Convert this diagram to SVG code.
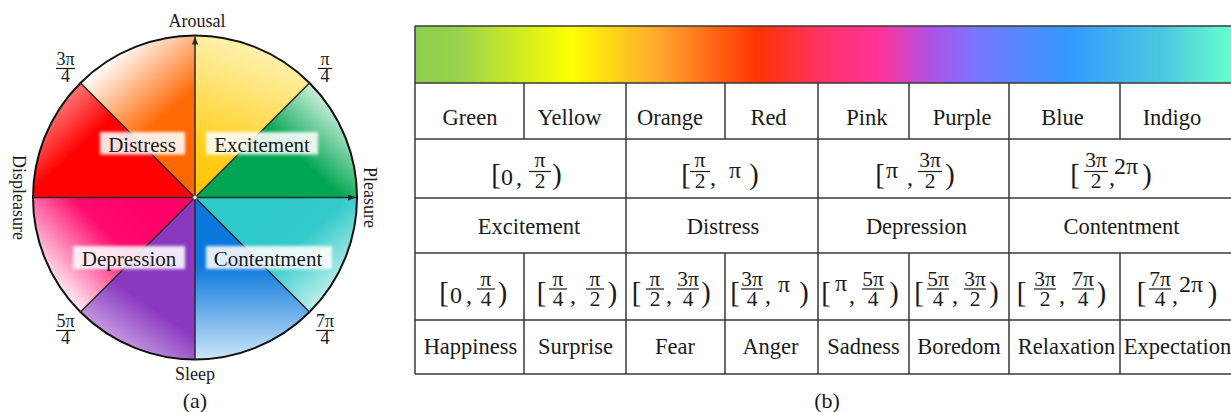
<svg xmlns="http://www.w3.org/2000/svg" width="1231" height="412" viewBox="0 0 1231 412">
<style>
text{font-family:"Liberation Serif","Times New Roman",serif;fill:#1a1a1a}
.ax{font-size:18px}
.lb{font-size:21px;text-anchor:middle}
.cap{font-size:22px;text-anchor:middle}
.tc{font-size:22.5px;text-anchor:middle}
.m{font-size:24px;text-anchor:middle}
.br{font-size:28.5px;text-anchor:middle}
.f{font-size:21.5px;text-anchor:middle}
.fs{font-size:18px;text-anchor:middle}
.bar{stroke:#1a1a1a;stroke-width:1.2}
.grid{stroke:#3a3a3a;stroke-width:1.5;fill:none}
.axis{stroke:#2a2a2a;stroke-width:1.5;fill:none}
.box{fill:#ffffff;opacity:0.88}
</style>
<defs>
<marker id="arr" markerWidth="8" markerHeight="6" refX="8" refY="3" orient="auto" markerUnits="userSpaceOnUse"><path d="M0,0 L8,3 L0,6 z" fill="#2a2a2a"/></marker>
<filter id="soft" x="-10%" y="-30%" width="120%" height="160%"><feGaussianBlur stdDeviation="1.6"/></filter>
<linearGradient id="gGreen" gradientUnits="userSpaceOnUse" x1="250" y1="200" x2="345" y2="95"><stop offset="0" stop-color="#00a651"/><stop offset="0.45" stop-color="#00a651"/><stop offset="1" stop-color="#ffffff"/></linearGradient>
<linearGradient id="gYellow" gradientUnits="userSpaceOnUse" x1="200" y1="195" x2="250" y2="45"><stop offset="0" stop-color="#ffc400"/><stop offset="0.3" stop-color="#ffcf20"/><stop offset="1" stop-color="#fff2b0"/></linearGradient>
<linearGradient id="gOrange" gradientUnits="userSpaceOnUse" x1="190" y1="180" x2="95" y2="70"><stop offset="0" stop-color="#ff6600"/><stop offset="0.45" stop-color="#ff6a05"/><stop offset="1" stop-color="#ffffff"/></linearGradient>
<linearGradient id="gRed" gradientUnits="userSpaceOnUse" x1="140" y1="185" x2="55" y2="95"><stop offset="0" stop-color="#ff0000"/><stop offset="0.55" stop-color="#ff0000"/><stop offset="1" stop-color="#ff8a8a"/></linearGradient>
<linearGradient id="gPink" gradientUnits="userSpaceOnUse" x1="150" y1="215" x2="60" y2="300"><stop offset="0" stop-color="#ff0066"/><stop offset="0.35" stop-color="#ff0a6c"/><stop offset="1" stop-color="#ffffff"/></linearGradient>
<linearGradient id="gPurple" gradientUnits="userSpaceOnUse" x1="175" y1="260" x2="110" y2="355"><stop offset="0" stop-color="#8a38c0"/><stop offset="0.45" stop-color="#8a38c0"/><stop offset="1" stop-color="#d7b8ea"/></linearGradient>
<linearGradient id="gBlue" gradientUnits="userSpaceOnUse" x1="230" y1="265" x2="230" y2="360"><stop offset="0" stop-color="#0a78dc"/><stop offset="1" stop-color="#cde6f8"/></linearGradient>
<linearGradient id="gTeal" gradientUnits="userSpaceOnUse" x1="270" y1="215" x2="345" y2="300"><stop offset="0" stop-color="#2ec9c9"/><stop offset="0.35" stop-color="#33caca"/><stop offset="1" stop-color="#e0f8f4"/></linearGradient>
<linearGradient id="spec" gradientUnits="userSpaceOnUse" x1="415" y1="0" x2="1231" y2="0">
<stop offset="0" stop-color="#8ccf50"/>
<stop offset="0.05" stop-color="#95d24d"/>
<stop offset="0.19" stop-color="#ffff00"/>
<stop offset="0.30" stop-color="#ffa630"/>
<stop offset="0.42" stop-color="#ff3300"/>
<stop offset="0.50" stop-color="#ff3366"/>
<stop offset="0.57" stop-color="#ff3399"/>
<stop offset="0.635" stop-color="#a955e8"/>
<stop offset="0.69" stop-color="#7777ff"/>
<stop offset="0.80" stop-color="#3399ff"/>
<stop offset="0.92" stop-color="#4cc9e0"/>
<stop offset="1" stop-color="#66ffcc"/>
</linearGradient>
</defs>

<g id="wheel">
<path d="M195,197.5 L357,197.5 A162,162 0 0,0 309.55,82.95 Z" fill="url(#gGreen)"/>
<path d="M195,197.5 L309.55,82.95 A162,162 0 0,0 195,35.5 Z" fill="url(#gYellow)"/>
<path d="M195,197.5 L195,35.5 A162,162 0 0,0 80.45,82.95 Z" fill="url(#gOrange)"/>
<path d="M195,197.5 L80.45,82.95 A162,162 0 0,0 33,197.5 Z" fill="url(#gRed)"/>
<path d="M195,197.5 L33,197.5 A162,162 0 0,0 80.45,312.05 Z" fill="url(#gPink)"/>
<path d="M195,197.5 L80.45,312.05 A162,162 0 0,0 195,359.5 Z" fill="url(#gPurple)"/>
<path d="M195,197.5 L195,359.5 A162,162 0 0,0 309.55,312.05 Z" fill="url(#gBlue)"/>
<path d="M195,197.5 L309.55,312.05 A162,162 0 0,0 357,197.5 Z" fill="url(#gTeal)"/>
<circle cx="195" cy="197.5" r="162" fill="none" stroke="#111" stroke-width="2"/>
</g>

<g id="connectors">
<line class="axis" x1="80.45" y1="82.95" x2="309.55" y2="312.05"/>
<line class="axis" x1="309.55" y1="82.95" x2="80.45" y2="312.05"/>
<line class="axis" x1="195" y1="359.5" x2="195" y2="36.5" marker-end="url(#arr)"/>
<line class="axis" x1="33" y1="197.5" x2="356" y2="197.5" marker-end="url(#arr)"/>
<circle cx="195" cy="197.5" r="2.2" fill="#ddd" stroke="#555" stroke-width="0.8"/>
</g>

<g id="node-distress">
<rect class="box" x="100" y="132" width="85" height="22.5" filter="url(#soft)"/>
<text class="lb" x="142" y="151.5">Distress</text>
</g>
<g id="node-excitement">
<rect class="box" x="206" y="132" width="112" height="22.5" filter="url(#soft)"/>
<text class="lb" x="262" y="151.5">Excitement</text>
</g>
<g id="node-depression">
<rect class="box" x="73" y="246" width="112" height="23" filter="url(#soft)"/>
<text class="lb" x="129" y="265.5">Depression</text>
</g>
<g id="node-contentment">
<rect class="box" x="206" y="246" width="126" height="23" filter="url(#soft)"/>
<text class="lb" x="268" y="265.5">Contentment</text>
</g>

<g id="axis-labels">
<text class="ax" x="197" y="26.5" text-anchor="middle">Arousal</text>
<text class="ax" x="195" y="379.5" text-anchor="middle">Sleep</text>
<text class="ax" transform="translate(13,197.5) rotate(90)" text-anchor="middle">Displeasure</text>
<text class="ax" transform="translate(364,197.5) rotate(90)" text-anchor="middle">Pleasure</text>
<text class="cap" x="195" y="408">(a)</text>
</g>

<g id="angle-labels">
<text class="fs"><tspan x="65.5" y="65">3π</tspan><tspan x="65.5" y="82">4</tspan></text><line class="bar" x1="56" y1="68.5" x2="75" y2="68.5"/>
<text class="fs"><tspan x="325" y="65">π</tspan><tspan x="325" y="82">4</tspan></text><line class="bar" x1="318" y1="68.5" x2="332" y2="68.5"/>
<text class="fs"><tspan x="65.5" y="327">5π</tspan><tspan x="65.5" y="343.5">4</tspan></text><line class="bar" x1="56" y1="330.5" x2="75" y2="330.5"/>
<text class="fs"><tspan x="325" y="327">7π</tspan><tspan x="325" y="343.5">4</tspan></text><line class="bar" x1="316" y1="330.5" x2="334" y2="330.5"/>
</g>

<g id="table">
<rect x="415" y="26" width="816" height="57" fill="url(#spec)"/>
<g class="grid">
<path d="M415,26 H1231 M415,83 H1231 M415,139 H1231 M415,198 H1231 M415,253 H1231 M415,320 H1231 M415,374 H1231"/>
<path d="M415,26 V374"/>
<path d="M524,83 V139 M725,83 V139 M909,83 V139 M1120,83 V139"/>
<path d="M626,83 V374 M818,83 V374 M1009,83 V374"/>
<path d="M524,253 V374 M725,253 V374 M909,253 V374 M1120,253 V374"/>
</g>
</g>

<g id="row-colors">
<text class="tc" x="470" y="125">Green</text>
<text class="tc" x="569.5" y="125">Yellow</text>
<text class="tc" x="670" y="125">Orange</text>
<text class="tc" x="768.5" y="125">Red</text>
<text class="tc" x="867" y="125">Pink</text>
<text class="tc" x="962" y="125">Purple</text>
<text class="tc" x="1062.5" y="125">Blue</text>
<text class="tc" x="1172" y="125">Indigo</text>
</g>

<g id="row-quadrant-ranges">
<text class="br" x="496" y="183.5">[</text><text class="m"><tspan x="507" y="185">0</tspan><tspan x="519" y="185">,</tspan></text>
<text class="f"><tspan x="540" y="167">π</tspan><tspan x="540" y="188">2</tspan></text><line class="bar" x1="529" y1="171.5" x2="551" y2="171.5"/>
<text class="br" x="557" y="183.5">)</text>

<text class="br" x="686" y="183.5">[</text>
<text class="f"><tspan x="700" y="167">π</tspan><tspan x="700" y="188">2</tspan></text><line class="bar" x1="690" y1="171.5" x2="710" y2="171.5"/>
<text class="m"><tspan x="713" y="185">,</tspan><tspan x="735" y="178">π</tspan></text>
<text class="br" x="754" y="183.5">)</text>

<text class="br" x="880" y="183.5">[</text><text class="m"><tspan x="892" y="178">π</tspan><tspan x="910" y="185">,</tspan></text>
<text class="f"><tspan x="930" y="167">3π</tspan><tspan x="930" y="188">2</tspan></text><line class="bar" x1="918" y1="171.5" x2="942" y2="171.5"/>
<text class="br" x="950" y="183.5">)</text>

<text class="br" x="1075" y="183.5">[</text>
<text class="f"><tspan x="1096" y="167">3π</tspan><tspan x="1096" y="188">2</tspan></text><line class="bar" x1="1084" y1="171.5" x2="1108" y2="171.5"/>
<text class="m"><tspan x="1112" y="185">,</tspan><tspan x="1126" y="174">2π</tspan></text>
<text class="br" x="1147" y="183.5">)</text>
</g>

<g id="row-emotions">
<text class="tc" x="529" y="234">Excitement</text>
<text class="tc" x="723" y="234">Distress</text>
<text class="tc" x="916.5" y="234">Depression</text>
<text class="tc" x="1121.5" y="234">Contentment</text>
</g>

<g id="row-octant-ranges">
<text class="br" x="444" y="301.5">[</text><text class="m"><tspan x="456" y="303">0</tspan><tspan x="469" y="303">,</tspan></text>
<text class="f"><tspan x="486" y="285.5">π</tspan><tspan x="486" y="305.5">4</tspan></text><line class="bar" x1="477" y1="289" x2="495" y2="289"/>
<text class="br" x="502.5" y="301.5">)</text>

<text class="br" x="541.5" y="301.5">[</text>
<text class="f"><tspan x="558" y="285.5">π</tspan><tspan x="558" y="305.5">4</tspan></text><line class="bar" x1="549" y1="289" x2="567" y2="289"/>
<text class="m" x="573" y="303">,</text>
<text class="f"><tspan x="595" y="285.5">π</tspan><tspan x="595" y="305.5">2</tspan></text><line class="bar" x1="586" y1="289" x2="604" y2="289"/>
<text class="br" x="612.5" y="301.5">)</text>

<text class="br" x="636.5" y="301.5">[</text>
<text class="f"><tspan x="655" y="285.5">π</tspan><tspan x="655" y="305.5">2</tspan></text><line class="bar" x1="646" y1="289" x2="664" y2="289"/>
<text class="m" x="669" y="303">,</text>
<text class="f"><tspan x="688" y="285.5">3π</tspan><tspan x="688" y="305.5">4</tspan></text><line class="bar" x1="677" y1="289" x2="699" y2="289"/>
<text class="br" x="706" y="301.5">)</text>

<text class="br" x="735" y="301.5">[</text>
<text class="f"><tspan x="752" y="285.5">3π</tspan><tspan x="752" y="305.5">4</tspan></text><line class="bar" x1="741" y1="289" x2="763" y2="289"/>
<text class="m"><tspan x="768" y="303">,</tspan><tspan x="784" y="292">π</tspan></text>
<text class="br" x="804" y="301.5">)</text>

<text class="br" x="826" y="301.5">[</text><text class="m"><tspan x="841" y="291">π</tspan><tspan x="852" y="303">,</tspan></text>
<text class="f"><tspan x="873" y="285.5">5π</tspan><tspan x="873" y="305.5">4</tspan></text><line class="bar" x1="862" y1="289" x2="884" y2="289"/>
<text class="br" x="894" y="301.5">)</text>

<text class="br" x="919" y="301.5">[</text>
<text class="f"><tspan x="938" y="285.5">5π</tspan><tspan x="938" y="305.5">4</tspan></text><line class="bar" x1="927" y1="289" x2="949" y2="289"/>
<text class="m" x="955" y="303">,</text>
<text class="f"><tspan x="975" y="285.5">3π</tspan><tspan x="975" y="305.5">2</tspan></text><line class="bar" x1="964" y1="289" x2="986" y2="289"/>
<text class="br" x="994" y="301.5">)</text>

<text class="br" x="1021.5" y="301.5">[</text>
<text class="f"><tspan x="1045" y="285.5">3π</tspan><tspan x="1045" y="305.5">2</tspan></text><line class="bar" x1="1034" y1="289" x2="1056" y2="289"/>
<text class="m" x="1062" y="303">,</text>
<text class="f"><tspan x="1083" y="285.5">7π</tspan><tspan x="1083" y="305.5">4</tspan></text><line class="bar" x1="1072" y1="289" x2="1094" y2="289"/>
<text class="br" x="1101.5" y="301.5">)</text>

<text class="br" x="1141.5" y="301.5">[</text>
<text class="f"><tspan x="1160" y="285.5">7π</tspan><tspan x="1160" y="305.5">4</tspan></text><line class="bar" x1="1149" y1="289" x2="1171" y2="289"/>
<text class="m"><tspan x="1175" y="303">,</tspan><tspan x="1191" y="292">2π</tspan></text>
<text class="br" x="1212.5" y="301.5">)</text>
</g>

<g id="row-names">
<text class="tc" x="470.5" y="354">Happiness</text>
<text class="tc" x="575.5" y="354">Surprise</text>
<text class="tc" x="675" y="354">Fear</text>
<text class="tc" x="770.5" y="354">Anger</text>
<text class="tc" x="863.5" y="354">Sadness</text>
<text class="tc" x="959" y="354">Boredom</text>
<text class="tc" x="1066.5" y="354">Relaxation</text>
<text class="tc" x="1177.5" y="354">Expectation</text>
</g>

<text class="cap" x="827" y="408">(b)</text>
</svg>
